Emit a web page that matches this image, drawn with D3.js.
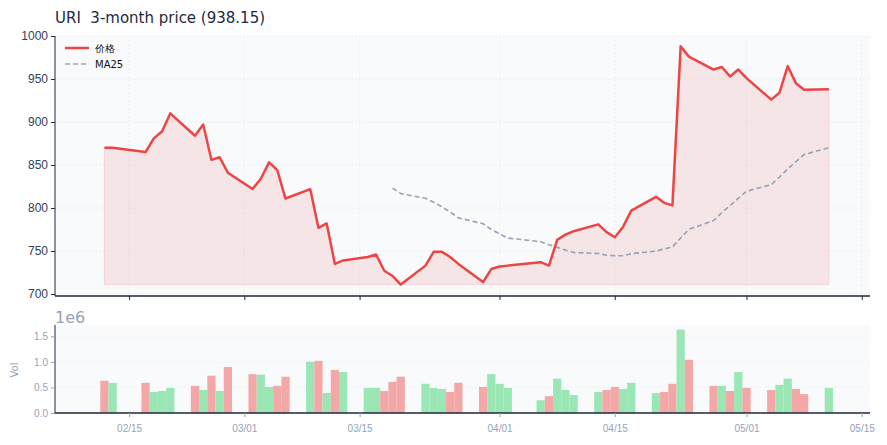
<!DOCTYPE html>
<html><head><meta charset="utf-8">
<script src="https://cdn.jsdelivr.net/npm/d3@7"></script>
<style>body{margin:0;background:#fff;font-family:"DejaVu Sans",sans-serif}</style>
</head><body><svg id="c" width="887" height="445"></svg>
<script>
const dates = ["02-12","02-13","02-17","02-18","02-19","02-20","02-23","02-24","02-25","02-26","02-27",
"03-02","03-03","03-04","03-05","03-06","03-09","03-10","03-11","03-12","03-13",
"03-16","03-17","03-18","03-19","03-20","03-23","03-24","03-25","03-26","03-27",
"03-30","03-31","04-01","04-02","04-06","04-07","04-08","04-09","04-10",
"04-13","04-14","04-15","04-16","04-17","04-20","04-21","04-22","04-23","04-24",
"04-27","04-28","04-29","04-30","05-01","05-04","05-05","05-06","05-07","05-08","05-11"];
const closes = [870,870,865,881,889,910,884,897,856,859,841,822,834,853,844,811,822,777,782,735,739,
743,746,727,721,711,733,749,749,743,735,714,729,732,733,737,733,763,769,773,
781,772,766,778,797,813,806,803,988,976,961,964,953,961,951,926,934,965,945,937.5,938.15];
const volumes = [0.63,0.59,0.59,0.41,0.43,0.49,0.53,0.45,0.73,0.43,0.90,0.76,0.75,0.51,0.53,0.71,1.00,1.02,0.39,0.84,0.80,
0.49,0.49,0.43,0.61,0.71,0.57,0.49,0.47,0.41,0.59,0.51,0.76,0.57,0.49,0.25,0.33,0.67,0.45,0.35,
0.41,0.45,0.51,0.47,0.59,0.39,0.41,0.57,1.63,1.04,0.53,0.53,0.43,0.80,0.49,0.45,0.55,0.67,0.47,0.37,0.49];
const up = [0,1,0,1,1,1,0,1,0,1,0,0,1,1,0,0,1,0,1,0,1,1,1,0,0,0,1,1,1,0,0,0,1,1,1,1,0,1,1,1,
1,0,0,1,1,1,0,0,1,0,0,1,0,1,0,0,1,1,0,0,1];
const yTicks = [700,750,800,850,900,950,1000];
const volTicks = [0,0.5,1.0,1.5];
const xTickLabels = ["02/15","03/01","03/15","04/01","04/15","05/01","05/15"];

const parse = d3.timeParse("%Y-%m-%d");
const data = dates.map((d,i)=>({date:parse("2025-"+d),close:closes[i],vol:volumes[i],up:up[i]}));
data.forEach((d,i)=>{ if(i>=24){ d.ma=d3.mean(data.slice(i-24,i+1),e=>e.close);} });

const svg = d3.select("#c");
const L=55,R=870, T=36, B=296, VT=325, VB=413;
const x = d3.scaleTime().domain([parse("2025-02-06"),d3.timeDay.offset(parse("2025-05-16"),0.1)]).range([L,R]);
const y = d3.scaleLinear().domain([700,1000]).range([294,36]);
const yv = d3.scaleLinear().domain([0,1.72]).range([VB,VT]);
const xt = xTickLabels.map(s=>parse("2025-"+s.replace("/","-")));

svg.append("text").attr("x",55).attr("y",23).attr("font-size",15).attr("fill","#1e293b").style("white-space","pre").text("URI  3-month price (938.15)");

svg.append("rect").attr("x",L).attr("y",T).attr("width",R-L).attr("height",B-T).attr("fill","#f8fafc");
svg.append("rect").attr("x",L).attr("y",VT).attr("width",R-L).attr("height",VB-VT).attr("fill","#f8fafc");

const g = svg.append("g");
yTicks.forEach(t=>g.append("line").attr("x1",L).attr("x2",R).attr("y1",y(t)).attr("y2",y(t)).attr("stroke","#e8edf3").attr("stroke-dasharray","2,2").attr("stroke-width",0.8));
xt.forEach(t=>g.append("line").attr("x1",x(t)).attr("x2",x(t)).attr("y1",T).attr("y2",B).attr("stroke","#e8edf3").attr("stroke-dasharray","2,2").attr("stroke-width",0.8));

const base = d3.min(closes);
svg.append("path").datum(data).attr("fill","rgba(239,68,68,0.11)").attr("stroke","rgba(239,68,68,0.15)")
  .attr("d",d3.area().x(d=>x(d.date)).y0(y(base)).y1(d=>y(d.close)));
svg.append("path").datum(data.filter(d=>d.ma!==undefined)).attr("fill","none").attr("stroke","#94a3b8").attr("stroke-width",1.6).attr("stroke-dasharray","5,3")
  .attr("d",d3.line().x(d=>x(d.date)).y(d=>y(d.ma)));
svg.append("path").datum(data).attr("fill","none").attr("stroke","#ef4444").attr("stroke-width",2.5).attr("stroke-linejoin","round")
  .attr("d",d3.line().x(d=>x(d.date)).y(d=>y(d.close)));

const ay = svg.append("g").attr("transform",`translate(${L},0)`).call(d3.axisLeft(y).tickValues(yTicks).tickFormat(d3.format("d")).tickSize(4));
ay.selectAll("text").attr("fill","#334155").attr("font-size",12);
ay.selectAll("line,path").attr("stroke","#1e293b");
ay.select(".domain").attr("d",`M0,${T}V${B}`);
const ax = svg.append("g").attr("transform",`translate(0,${B})`).call(d3.axisBottom(x).tickValues(xt).tickSize(4).tickFormat(""));
ax.selectAll("line").attr("stroke","#1e293b");
ax.select(".domain").attr("d",`M${L},0H${R}`).attr("stroke","#1e293b").attr("stroke-width",1.5);

const lg = svg.append("g");
lg.append("line").attr("x1",65).attr("x2",89).attr("y1",48).attr("y2",48).attr("stroke","#ef4444").attr("stroke-width",2.5);
lg.append("text").attr("x",95).attr("y",52).attr("font-size",10).attr("fill","#111").text("价格");
lg.append("line").attr("x1",65).attr("x2",89).attr("y1",64).attr("y2",64).attr("stroke","#94a3b8").attr("stroke-width",1.6).attr("stroke-dasharray","5,3");
lg.append("text").attr("x",95).attr("y",68).attr("font-size",10).attr("fill","#111").text("MA25");

volTicks.forEach(t=>svg.append("line").attr("x1",L).attr("x2",R).attr("y1",yv(t)).attr("y2",yv(t)).attr("stroke","#e8edf3").attr("stroke-dasharray","2,2").attr("stroke-width",0.6));
svg.append("g").selectAll("rect").data(data).join("rect")
  .attr("x",d=>x(d3.timeHour.offset(d.date,-12)))
  .attr("width",d=>x(d3.timeHour.offset(d.date,12))-x(d3.timeHour.offset(d.date,-12)))
  .attr("y",d=>yv(d.vol)).attr("height",d=>yv(0)-yv(d.vol))
  .attr("fill",d=>d.up?"#9ae6b4":"#f4a7a7");
const avy = svg.append("g").attr("transform",`translate(${L},0)`).call(d3.axisLeft(yv).tickValues(volTicks).tickFormat(d3.format(".1f")).tickSize(4));
avy.selectAll("text").attr("fill","#94a3b8").attr("font-size",10);
avy.selectAll("line").attr("stroke","#94a3b8");
avy.select(".domain").attr("d",`M0,${VT}V${VB}`).attr("stroke","#1e293b");
const avx = svg.append("g").attr("transform",`translate(0,${VB})`).call(d3.axisBottom(x).tickValues(xt).tickSize(4).tickFormat((d,i)=>xTickLabels[i]));
avx.selectAll("text").attr("fill","#94a3b8").attr("font-size",10).attr("dy","1.2em");
avx.selectAll("line").attr("stroke","#94a3b8");
avx.select(".domain").attr("d",`M${L},0H${R}`).attr("stroke","#1e293b").attr("stroke-width",1.5);
svg.append("text").attr("x",55).attr("y",323).attr("font-size",16).attr("fill","#94a3b8").text("1e6");
svg.append("text").attr("transform","translate(18,370) rotate(-90)").attr("text-anchor","middle").attr("font-size",10).attr("fill","#94a3b8").text("Vol");
</script></body></html>
